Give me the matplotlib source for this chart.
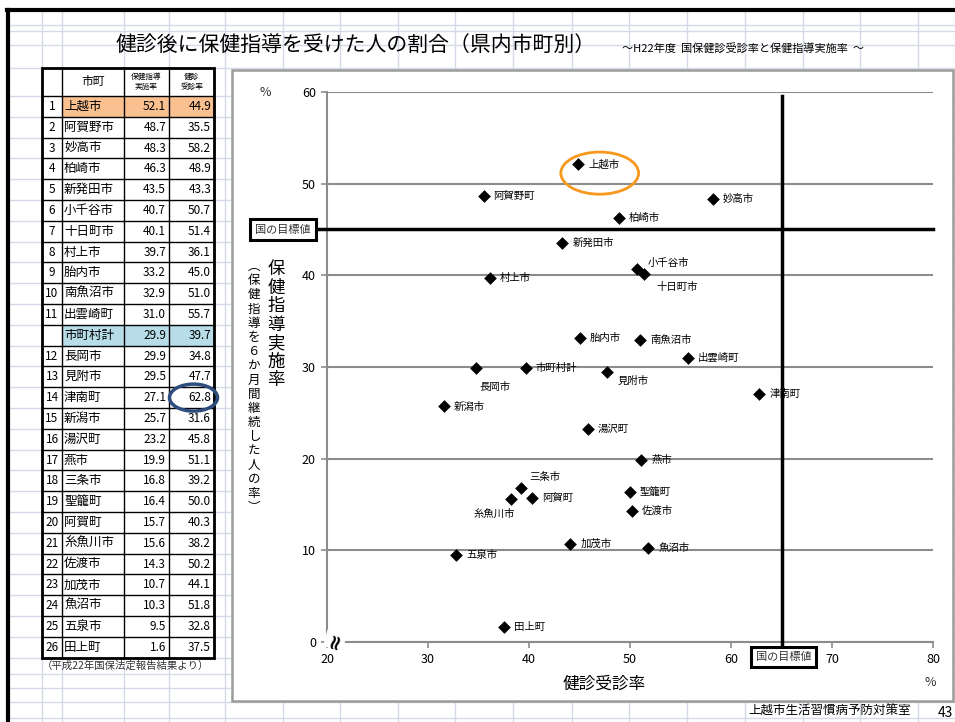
import matplotlib
matplotlib.use("Agg")
import matplotlib.pyplot as plt
from matplotlib.patches import Rectangle, Ellipse

plt.rcParams['font.family'] = ['Noto Sans CJK JP', 'DejaVu Sans']

# ---------------- data ----------------
cities = ['上越市', '阿賀野市', '妙高市', '柏崎市', '新発田市', '小千谷市', '十日町市',
          '村上市', '胎内市', '南魚沼市', '出雲崎町', '長岡市', '見附市', '津南町',
          '新潟市', '湯沢町', '燕市', '三条市', '聖籠町', '阿賀町', '糸魚川市',
          '佐渡市', '加茂市', '魚沼市', '五泉市', '田上町']
chart_labels = ['上越市', '阿賀野町', '妙高市', '柏崎市', '新発田市', '小千谷市', '十日町市',
                '村上市', '胎内市', '南魚沼市', '出雲崎町', '長岡市', '見附市', '津南町',
                '新潟市', '湯沢町', '燕市', '三条市', '聖籠町', '阿賀町', '糸魚川市',
                '佐渡市', '加茂市', '魚沼市', '五泉市', '田上町']
guidance_rate = [52.1, 48.7, 48.3, 46.3, 43.5, 40.7, 40.1, 39.7, 33.2, 32.9, 31.0,
                 29.9, 29.5, 27.1, 25.7, 23.2, 19.9, 16.8, 16.4, 15.7, 15.6, 14.3,
                 10.7, 10.3, 9.5, 1.6]
checkup_rate = [44.9, 35.5, 58.2, 48.9, 43.3, 50.7, 51.4, 36.1, 45.0, 51.0, 55.7,
                34.8, 47.7, 62.8, 31.6, 45.8, 51.1, 39.2, 50.0, 40.3, 38.2, 50.2,
                44.1, 51.8, 32.8, 37.5]
total_label = '市町村計'
total_guidance = 29.9
total_checkup = 39.7
total_after_rank = 11          # the prefecture total row sits after rank 11

target_guidance = 45
target_checkup = 65
x_ticks = [20, 30, 40, 50, 60, 70, 80]
y_ticks = [0, 10, 20, 30, 40, 50, 60]

# label placement (pixel offsets, alignment) for points not labelled to the right
label_offsets = {
    '小千谷市': (11, 6, 'left'),
    '十日町市': (12, -13, 'left'),
    '長岡市': (3, -19, 'left'),
    '見附市': (11, -9, 'left'),
    '三条市': (8, 11, 'left'),
    '糸魚川市': (-17, -15, 'center'),
}

# ---------------- figure / page ----------------
W, H = 955, 722
fig = plt.figure(figsize=(W / 100, H / 100), dpi=100)
bg = fig.add_axes([0, 0, 1, 1])
bg.set_xlim(0, W)
bg.set_ylim(H, 0)
bg.axis('off')

grid_c = '#D4DAE6'
row_h = 20.8
table_top, header_bottom = 68, 96
n_rows = len(cities) + 1
row_edges = [header_bottom + i * row_h for i in range(n_rows + 1)]

# spreadsheet gridlines
col_lines = [42, 62, 124, 169, 225, 283, 340, 398, 455, 513, 572, 629, 687, 745,
             803, 860, 918]
hrow_lines = [25, 31, 45, table_top] + row_edges + [674, 688, 702, 718]
for x in col_lines:
    bg.plot([x, x], [10, H], color=grid_c, lw=1, zorder=0)
for y in hrow_lines:
    bg.plot([8, W], [y, y], color=grid_c, lw=1, zorder=0)

# slide border
bg.plot([7, W], [10, 10], color='black', lw=3, zorder=1)
bg.plot([8, 8], [10, H], color='black', lw=3, zorder=1)

# titles
bg.text(356, 45, '健診後に保健指導を受けた人の割合（県内市町別）', fontsize=15,
        ha='center', va='center', zorder=3)
bg.text(622, 48, '～H22年度  国保健診受診率と保健指導実施率  ～', fontsize=8,
        ha='left', va='center', zorder=3)

# ---------------- table ----------------
tx = [42, 62, 124, 169, 214]
bg.add_patch(Rectangle((tx[0], table_top), tx[-1] - tx[0], row_edges[-1] - table_top,
                       facecolor='white', edgecolor='none', zorder=1))

rows = []
for i, (c, g, k) in enumerate(zip(cities, guidance_rate, checkup_rate)):
    rows.append((str(i + 1), c, g, k))
    if i + 1 == total_after_rank:
        rows.append(('', total_label, total_guidance, total_checkup))

for r, (num, name, g, k) in enumerate(rows):
    y0 = row_edges[r]
    yc = y0 + row_h / 2
    if num == '1':
        bg.add_patch(Rectangle((tx[1], y0), tx[4] - tx[1], row_h,
                               facecolor='#FAC090', edgecolor='none', zorder=1.5))
    if num == '':
        bg.add_patch(Rectangle((tx[1], y0), tx[4] - tx[1], row_h,
                               facecolor='#B7DDE8', edgecolor='none', zorder=1.5))
    bg.text((tx[0] + tx[1]) / 2, yc, num, fontsize=8.5, ha='center', va='center', zorder=3)
    bg.text(tx[1] + 2, yc, name, fontsize=9, ha='left', va='center', zorder=3)
    bg.text(tx[3] - 3, yc, f'{g:.1f}', fontsize=8.5, ha='right', va='center', zorder=3)
    bg.text(tx[4] - 3, yc, f'{k:.1f}', fontsize=8.5, ha='right', va='center', zorder=3)

# header
bg.text((tx[1] + tx[2]) / 2, 82, '市町', fontsize=8.5, ha='center', va='center', zorder=3)
bg.text((tx[2] + tx[3]) / 2, 82, '保健指導\n実施率', fontsize=5.5, ha='center',
        va='center', linespacing=1.25, zorder=3)
bg.text((tx[3] + tx[4]) / 2, 82, '健診\n受診率', fontsize=5.5, ha='center',
        va='center', linespacing=1.25, zorder=3)

# table rules
for y in [table_top] + row_edges:
    bg.plot([tx[0], tx[-1]], [y, y], color='black', lw=1, zorder=2)
for x in tx:
    bg.plot([x, x], [table_top, row_edges[-1]], color='black', lw=1, zorder=2)
bg.add_patch(Rectangle((tx[0], table_top), tx[-1] - tx[0], row_edges[-1] - table_top,
                       facecolor='none', edgecolor='black', lw=2, zorder=2.5))

# highlight the highest checkup rate
best = checkup_rate.index(max(checkup_rate))
best_row = best + (1 if best + 1 > total_after_rank else 0)
bg.add_patch(Ellipse(((tx[3] + tx[4]) / 2 + 2, row_edges[best_row] + row_h / 2), 48, 27,
                     facecolor='none', edgecolor='#2E4D7E', lw=2.5, zorder=4))

bg.text(42, 666, '（平成22年国保法定報告結果より）', fontsize=7.5, ha='left',
        va='center', color='#333333', zorder=3)
bg.text(748, 711, '上越市生活習慣病予防対策室', fontsize=9, ha='left', va='center', zorder=3)
bg.text(938, 713, '43', fontsize=10, ha='left', va='center', zorder=3)

# chart frame
bg.add_patch(Rectangle((232, 70), 721, 631, facecolor='white', edgecolor='#9B9B9B',
                       lw=1.8, zorder=1))

# y-axis titles (vertical writing)
bg.text(276, 260, '\n'.join('保健指導実施率'), fontsize=12.5, ha='center', va='top',
        linespacing=1.04, zorder=3)
bg.text(254, 260, '\n'.join('︵保健指導を６か月間継続した人の率︶'), fontsize=9,
        ha='center', va='top', linespacing=1.12, zorder=3)
bg.text(265, 92, '%', fontsize=9, ha='center', va='center', color='#333333', zorder=3)
bg.text(930, 683, '%', fontsize=9, ha='center', va='center', color='#333333', zorder=3)
bg.text(604, 684, '健診受診率', fontsize=12, ha='center', va='center', zorder=3)

# ---------------- scatter ----------------
ax = fig.add_axes([327 / W, 1 - 642 / H, 606 / W, 550 / H], zorder=2)
ax.set_facecolor('none')
ax.set_xlim(x_ticks[0], x_ticks[-1])
ax.set_ylim(y_ticks[0], y_ticks[-1])
ax.set_xticks(x_ticks)
ax.set_yticks(y_ticks)
ax.yaxis.grid(True, color='#8C8C8C', lw=1.5)
ax.set_axisbelow(True)
for s in ['top', 'right']:
    ax.spines[s].set_visible(False)
for s in ['left', 'bottom']:
    ax.spines[s].set_color('#8C8C8C')
    ax.spines[s].set_linewidth(1.5)
ax.tick_params(length=4, width=1.2, color='#8C8C8C', labelsize=9, pad=4)

# national targets
ax.axhline(target_guidance, xmin=-0.017, xmax=1, color='black', lw=2.5,
           clip_on=False, zorder=3)
ax.axvline(target_checkup, ymin=-0.006, ymax=0.993, color='black', lw=2.5,
           clip_on=False, zorder=3)
ax.annotate('国の目標値', xy=(x_ticks[0], target_guidance), xytext=(-44, 0),
            textcoords='offset pixels', ha='center', va='center', fontsize=8,
            color='#333333',
            bbox=dict(boxstyle='square,pad=0.45', fc='white', ec='black', lw=2.2),
            annotation_clip=False, zorder=5)
ax.annotate('国の目標値', xy=(target_checkup, y_ticks[0]), xytext=(2, -15),
            textcoords='offset pixels', ha='center', va='center', fontsize=8,
            color='#333333',
            bbox=dict(boxstyle='square,pad=0.45', fc='white', ec='black', lw=2.2),
            annotation_clip=False, zorder=5)

# axis break mark
ax.text(20.8, 0.2, '≈', fontsize=15, rotation=75, ha='center', va='center',
        fontweight='bold', family='DejaVu Sans', zorder=6,
        bbox=dict(boxstyle='square,pad=0.0', fc='white', ec='none'))

ax.scatter(checkup_rate, guidance_rate, marker='D', s=42, color='black', zorder=4,
           linewidths=0)
ax.scatter([total_checkup], [total_guidance], marker='D', s=42, color='black',
           zorder=4, linewidths=0)

for name, x, y in zip(chart_labels + [total_label], checkup_rate + [total_checkup],
                      guidance_rate + [total_guidance]):
    dx, dy, ha = label_offsets.get(name, (10, 0, 'left'))
    ax.annotate(name, xy=(x, y), xytext=(dx, dy), textcoords='offset pixels',
                ha=ha, va='center', fontsize=7.5, zorder=5)

# highlight 上越市
ax.add_patch(Ellipse((checkup_rate[0] + 2.1, guidance_rate[0] - 0.95), 7.7, 4.6,
                     facecolor='none', edgecolor='#F7981D', lw=2, zorder=5,
                     clip_on=False))

fig.savefig('out.png', dpi=100)
